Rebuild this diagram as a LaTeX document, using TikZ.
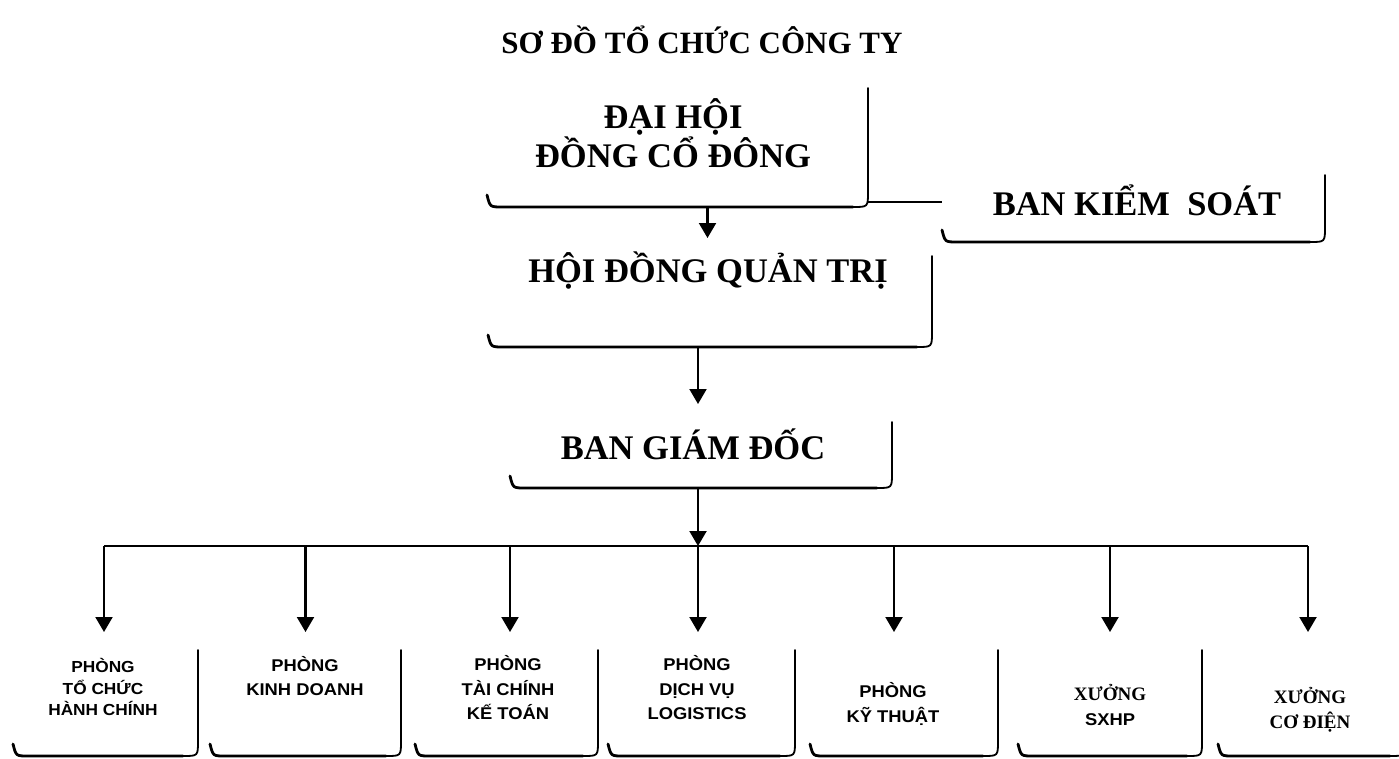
\documentclass[tikz,border=0pt]{standalone}
\usepackage{fontspec}
\setmainfont{Liberation Serif}
\newfontfamily\vnserif{Liberation Serif}
\newfontfamily\vnsans[FakeStretch=1.08]{Liberation Sans}
\usetikzlibrary{arrows.meta}
\tikzset{
  boxarea/.style 2 args={inner sep=0pt, outer sep=0pt, minimum width=#1, minimum height=#2},
  titletext/.style={font=\vnserif\bfseries\fontsize{31}{36}\selectfont, inner sep=0pt, anchor=base},
  bigtext/.style={font=\vnserif\bfseries\fontsize{34.5}{37}\selectfont, inner sep=0pt, align=center},
  smalltext/.style={font=\vnsans\bfseries\fontsize{17}{24.5}\selectfont, inner sep=0pt, align=center},
  edgeline/.style={line width=1.8pt, line cap=round},
  bottomline/.style={line width=2.8pt, line cap=round},
  conn/.style={line width=2.1pt},
  arr/.style={line width=2.1pt, -{Triangle[length=15pt,width=17pt]}}
}
\newcommand{\bracketbox}[1]{%
  \draw[edgeline] ([yshift=-18pt]#1.north east) -- ([yshift=15pt]#1.south east)
     .. controls (#1.south east) .. ([xshift=-15pt]#1.south east);
  \draw[bottomline] ([xshift=-15pt]#1.south east) -- ([xshift=15pt]#1.south west)
     .. controls ([xshift=3pt]#1.south west) .. ([yshift=12pt]#1.south west);
}
\newcommand{\wserif}{\vnserif\bfseries\fontsize{19}{24.5}\selectfont}
\begin{document}
\begin{tikzpicture}[x=1pt,y=-1pt]
\fill[white] (0,0) rectangle (1399,758);
\useasboundingbox (0,0) rectangle (1399,758);

% title
\node[titletext] (title) at (702,53) {SƠ ĐỒ TỔ CHỨC CÔNG TY};

% upper boxes (areas)
\node[boxarea={381pt}{137pt}] (A) at (677.5,138.5) {};
\node[boxarea={383pt}{85pt}]  (B) at (1133.5,199.5) {};
\node[boxarea={444pt}{109pt}] (C) at (710,292.5) {};
\node[boxarea={382pt}{84pt}]  (D) at (701,446) {};

\node[bigtext] (At) at (673,133) {ĐẠI HỘI\\ĐỒNG CỔ ĐÔNG};
\node[bigtext, anchor=base] (Bt) at (1137,215) {BAN KIỂM\ \ SOÁT};
\node[bigtext, anchor=base] (Ct) at (708,282) {HỘI ĐỒNG QUẢN TRỊ};
\node[bigtext, anchor=base] (Dt) at (693,459) {BAN GIÁM ĐỐC};

\bracketbox{A}
\bracketbox{B}
\bracketbox{C}
\bracketbox{D}

% lower boxes (areas)
\node[boxarea={185pt}{124pt}] (b1) at (105.5,694) {};
\node[boxarea={191pt}{124pt}] (b2) at (305.5,694) {};
\node[boxarea={183pt}{124pt}] (b3) at (506.5,694) {};
\node[boxarea={187pt}{124pt}] (b4) at (701.5,694) {};
\node[boxarea={188pt}{124pt}] (b5) at (904,694) {};
\node[boxarea={184pt}{124pt}] (b6) at (1110,694) {};
\node[boxarea={187pt}{124pt}] (b7) at (1311.5,694) {};

\foreach \b in {b1,b2,b3,b4,b5,b6,b7} {\bracketbox{\b}}

\node[smalltext, font=\vnsans\bfseries\fontsize{16}{21.5}\selectfont] (t1) at (103,687) {PHÒNG\\TỔ CHỨC\\HÀNH CHÍNH};
\node[smalltext] (t2) at (305,676) {PHÒNG\\KINH DOANH};
\node[smalltext] (t3) at (508,688) {PHÒNG\\TÀI CHÍNH\\KẾ TOÁN};
\node[smalltext] (t4) at (697,688) {PHÒNG\\DỊCH VỤ\\LOGISTICS};
\node[smalltext] (t5) at (893,704) {PHÒNG\\KỸ THUẬT};
\node[smalltext] (t6) at (1110,705) {{\wserif XƯỞNG}\\SXHP};
\node[smalltext] (t7) at (1310,710) {{\wserif XƯỞNG}\\{\wserif CƠ ĐIỆN}};

% connectors
\coordinate (ab) at ([yshift=5pt]A.south east);
\draw[conn] (ab) -- (ab -| B.west);
\draw[arr] ([xshift=30pt]A.south) -- ([xshift=30pt]A.south |- C.north);
\draw[arr] ([xshift=-12pt]C.south) -- ([xshift=-12pt]C.south |- D.north);

\coordinate (busL) at (104,546);
\coordinate (busR) at (1308,546);
\draw[arr] ([xshift=-3pt]D.south) -- ([xshift=-3pt]D.south |- busL);
\draw[conn] (busL) -- (busR);

\draw[arr] ([xshift=-1.5pt]b1.north |- busL) -- ([xshift=-1.5pt]b1.north);
\draw[arr] (b2.north |- busL) -- (b2.north);
\draw[arr] ([xshift=3.5pt]b3.north |- busL) -- ([xshift=3.5pt]b3.north);
\draw[arr] ([xshift=-3.5pt]b4.north |- busL) -- ([xshift=-3.5pt]b4.north);
\draw[arr] ([xshift=-10pt]b5.north |- busL) -- ([xshift=-10pt]b5.north);
\draw[arr] (b6.north |- busL) -- (b6.north);
\draw[arr] ([xshift=-3.5pt]b7.north |- busL) -- ([xshift=-3.5pt]b7.north);
\end{tikzpicture}
\end{document}
